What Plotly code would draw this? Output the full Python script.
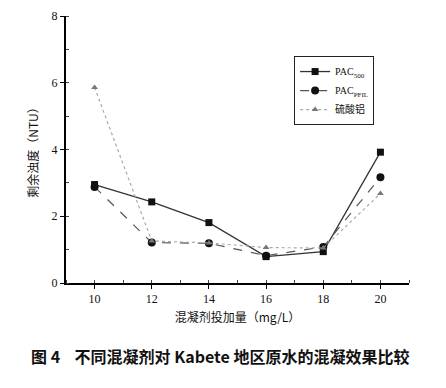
import plotly.graph_objects as go

dose = [10, 12, 14, 16, 18, 20]
pac500 = [2.95, 2.43, 1.81, 0.79, 0.94, 3.92]
pacpfil = [2.88, 1.21, 1.19, 0.82, 1.08, 3.17]
alum = [5.86, 1.26, 1.20, 1.06, 1.05, 2.68]

names = ["PAC<sub>500</sub>", "PAC<sub>PFIL</sub>", "硫酸铝"]

fig = go.Figure()
fig.add_trace(go.Scatter(x=dose, y=pac500, name=names[0], mode="lines+markers",
                         line=dict(color="#333333", width=1.3),
                         marker=dict(symbol="square", size=7, color="#111111")))
fig.add_trace(go.Scatter(x=dose, y=pacpfil, name=names[1], mode="lines+markers",
                         line=dict(color="#555555", width=1.2, dash="dash"),
                         marker=dict(symbol="circle", size=8, color="#111111")))
fig.add_trace(go.Scatter(x=dose, y=alum, name=names[2], mode="lines+markers",
                         line=dict(color="#aaaaaa", width=1.2, dash="dot"),
                         marker=dict(symbol="triangle-up", size=6, color="#777777")))

fig.update_layout(
    width=438, height=380,
    margin=dict(l=58, r=37, t=8, b=105, autoexpand=False),
    paper_bgcolor="white", plot_bgcolor="white",
    font=dict(family="Liberation Serif, Noto Sans CJK SC", size=12, color="#111111"),
    legend=dict(x=0.665, y=0.85, xanchor="left", yanchor="top",
                bordercolor="#222222", borderwidth=1, bgcolor="white",
                font=dict(size=10, family="Liberation Serif, Noto Sans CJK SC", color="#111111"),
                tracegroupgap=0, itemwidth=30),
    showlegend=True,
)
fig.update_xaxes(range=[9, 21], tickvals=dose, showline=True, linecolor="#000000", linewidth=2,
                 ticks="outside", ticklen=4, tickcolor="#000000", showgrid=False, zeroline=False,
                 automargin=False,
                 minor=dict(ticks="inside", ticklen=3, dtick=1, tickcolor="#444444"),
                 title=dict(text="混凝剂投加量（mg/L）",
                            font=dict(size=12, family="Noto Sans CJK SC", color="#111111"), standoff=8))
fig.update_yaxes(range=[0, 8], tickvals=[0, 2, 4, 6, 8], showline=True, linecolor="#000000", linewidth=2,
                 ticks="outside", ticklen=4, tickcolor="#000000", showgrid=False, zeroline=False,
                 automargin=False,
                 minor=dict(ticks="inside", ticklen=3, dtick=1, tickcolor="#444444"),
                 title=dict(text="剩余浊度（NTU）",
                            font=dict(size=12, family="Noto Sans CJK SC", color="#111111"), standoff=10))

fig.add_annotation(text="<b>图 4    不同混凝剂对 Kabete 地区原水的混凝效果比较</b>",
                   xref="paper", yref="paper", x=0.449, y=-0.22, xanchor="center", yanchor="top",
                   showarrow=False, font=dict(size=16, family="Noto Sans CJK SC", color="#111111"))

fig.write_html("out.html")
